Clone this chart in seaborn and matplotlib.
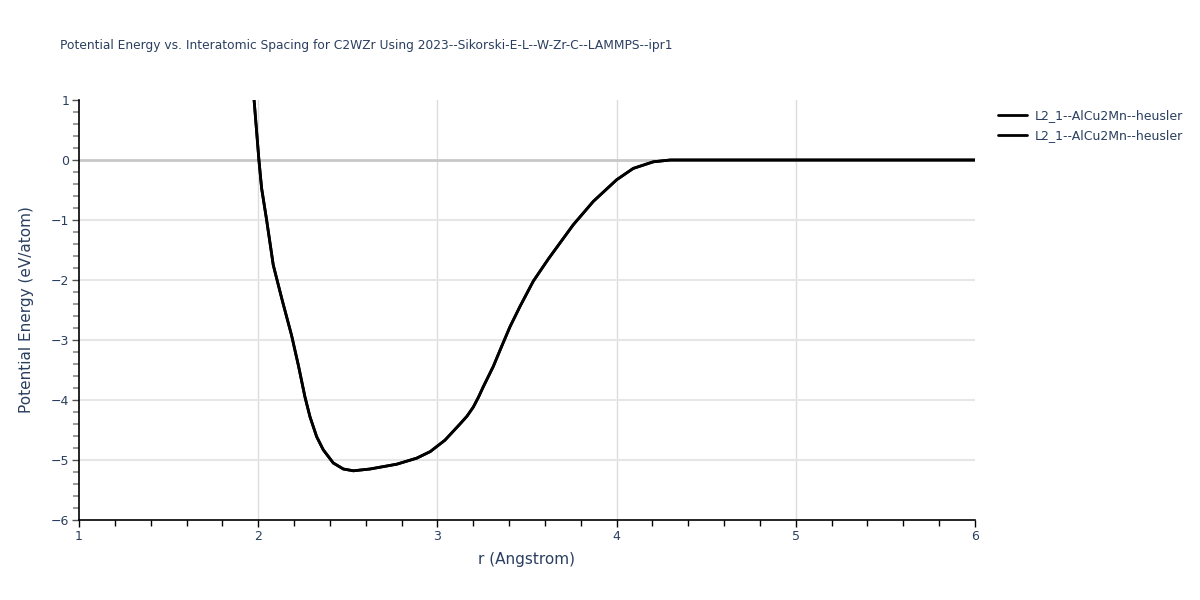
import matplotlib
matplotlib.use("Agg")
import matplotlib.pyplot as plt
from matplotlib.ticker import MultipleLocator
import seaborn as sns
import pandas as pd

title = "Potential Energy vs. Interatomic Spacing for C2WZr Using 2023--Sikorski-E-L--W-Zr-C--LAMMPS--ipr1"
series_names = ["L2_1--AlCu2Mn--heusler", "L2_1--AlCu2Mn--heusler"]
r_values = [1.977, 2.004, 2.019, 2.047, 2.084, 2.112, 2.136, 2.186, 2.224, 2.261, 2.289, 2.326,
            2.363, 2.419, 2.475, 2.531, 2.624, 2.773, 2.884, 2.96, 3.042, 3.126, 3.165, 3.2, 3.228,
            3.256, 3.312, 3.358, 3.405, 3.461, 3.535, 3.619, 3.758, 3.87, 4.0, 4.093, 4.205, 4.30, 6.0]
energy_values = [1.0, 0.0, -0.47, -1.0, -1.75, -2.08, -2.36, -2.92, -3.42, -3.95, -4.28, -4.61,
                 -4.83, -5.05, -5.15, -5.18, -5.15, -5.07, -4.97, -4.86, -4.67, -4.40, -4.27, -4.12, -3.96,
                 -3.78, -3.44, -3.11, -2.78, -2.44, -2.02, -1.65, -1.08, -0.69, -0.33, -0.14, -0.03, 0.0, 0.0]
x_ticks = [1, 2, 3, 4, 5, 6]
y_ticks = [-6, -5, -4, -3, -2, -1, 0, 1]

sns.set_theme(style="white")
plt.rcParams['font.family'] = ['DejaVu Sans']
text_color = "#2a3f5f"

fig = plt.figure(figsize=(12, 6), dpi=100)
ax = fig.add_axes([79/1200, 1 - 520/600, (975-79)/1200, 420/600])

for name in series_names:
    df = pd.DataFrame({"r": r_values, "E": energy_values})
    sns.lineplot(data=df, x="r", y="E", sort=False, color="black", linewidth=2,
                 label=name, ax=ax, zorder=3, solid_joinstyle="round")

ax.set_xlim(1, 6)
ax.set_ylim(-6, 1)
ax.set_xticks(x_ticks)
ax.set_yticks(y_ticks)
ax.set_yticklabels([("\u2212" + str(-t)) if t < 0 else str(t) for t in y_ticks])
ax.xaxis.set_minor_locator(MultipleLocator(0.2))
ax.yaxis.set_minor_locator(MultipleLocator(0.2))

for t in x_ticks[1:-1]:
    ax.axvline(t, color="#dcdcdc", linewidth=1, zorder=1)
for t in y_ticks[1:-1]:
    if t == 0:
        ax.axhline(t, color="#c8c8c8", linewidth=2, zorder=1)
    else:
        ax.axhline(t, color="#e6e6e6", linewidth=1.5, zorder=1)

for side in ["top", "right"]:
    ax.spines[side].set_visible(False)
for side in ["left", "bottom"]:
    ax.spines[side].set_color("black")
    ax.spines[side].set_linewidth(1.2)

ax.tick_params(axis="x", which="major", direction="out", length=5, width=1, color="black",
               labelcolor=text_color, labelsize=9, bottom=True, pad=2)
ax.tick_params(axis="x", which="minor", direction="out", length=4, width=1, color="black", bottom=True)
ax.tick_params(axis="y", which="major", direction="out", length=5, width=1, color="#555555",
               labelcolor=text_color, labelsize=9, left=True, pad=2)
ax.tick_params(axis="y", which="minor", direction="out", length=4, width=1.2, color="#888888", left=True)

ax.set_xlabel("r (Angstrom)", fontsize=11, color=text_color, labelpad=7)
ax.set_ylabel("Potential Energy (eV/atom)", fontsize=11, color=text_color, labelpad=12)

fig.text(60/1200, 1 - 45/600, title, fontsize=8.8, color=text_color, va="center", ha="left")

leg = ax.legend(loc="upper left", bbox_to_anchor=(993/1200, 1 - 104/600),
                bbox_transform=fig.transFigure, frameon=False, fontsize=9,
                handlelength=2.3, handletextpad=0.6, labelspacing=0.55, borderaxespad=0)
for txt in leg.get_texts():
    txt.set_color(text_color)

fig.savefig("out.png", dpi=100, facecolor="white")
